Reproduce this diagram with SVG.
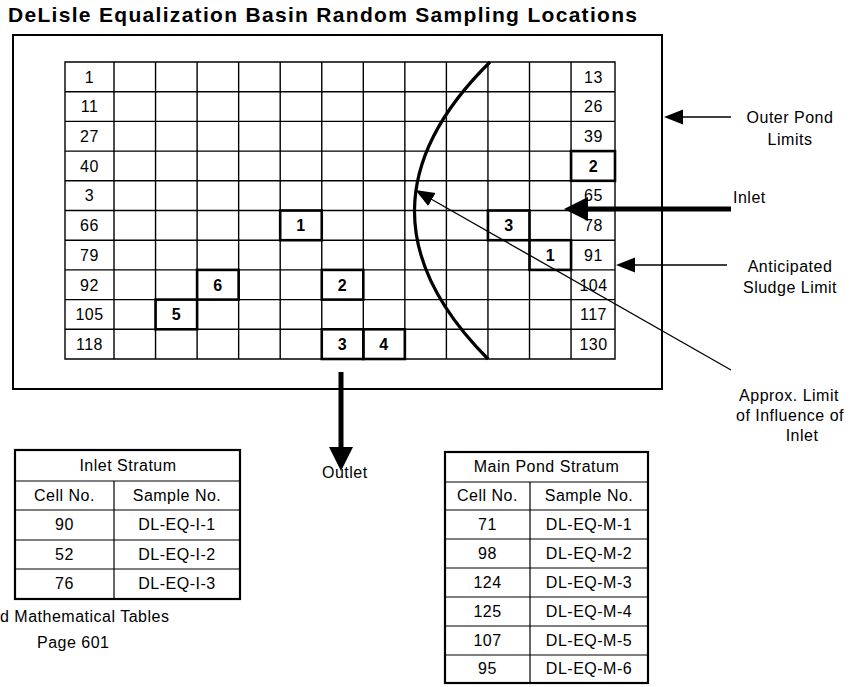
<svg xmlns="http://www.w3.org/2000/svg" width="850" height="687" viewBox="0 0 850 687">
  <style>
    .t { font-family: "Liberation Sans", Arial, Helvetica, sans-serif; font-size: 16px; letter-spacing: 0.5px; fill: #000; }
    .c { text-anchor: middle; }
    .b { font-weight: bold; }
    .title { font-family: "Liberation Sans", Arial, Helvetica, sans-serif; font-size: 21px; font-weight: bold; fill: #000; }
    .frame { fill: #fff; stroke: #000; stroke-width: 2; }
    .gridline { fill: none; stroke: #000; stroke-width: 1.4; }
    .pick { fill: none; stroke: #000; stroke-width: 2.6; }
    .arc { fill: none; stroke: #000; stroke-width: 3.2; }
    .thick { stroke: #000; stroke-width: 5; fill: none; }
    .thin { stroke: #000; stroke-width: 1.3; fill: none; }
    .tbl { fill: none; stroke: #000; stroke-width: 2.2; }
    .tline { fill: none; stroke: #000; stroke-width: 1.2; }
  </style>
  <defs>
    <marker id="head-lg" markerUnits="userSpaceOnUse" markerWidth="26" markerHeight="26" viewBox="0 -13 26 26" refX="1" refY="0" orient="auto">
      <path d="M0,-12 L24,0 L0,12 z" fill="#000"/>
    </marker>
    <marker id="head-sm" markerUnits="userSpaceOnUse" markerWidth="22" markerHeight="18" viewBox="0 -9 22 18" refX="1" refY="0" orient="auto">
      <path d="M0,-7.5 L19,0 L0,7.5 z" fill="#000"/>
    </marker>
  </defs>

  <rect width="850" height="687" fill="#fff"/>

  <text id="title" class="title" x="8" y="22" textLength="629" lengthAdjust="spacing">DeLisle Equalization Basin Random Sampling Locations</text>

  <!-- outer pond boundary -->
  <g id="pond">
    <rect class="frame" x="13" y="35" width="649" height="354"/>
  </g>

  <!-- 13 x 10 sampling grid -->
  <g id="grid">
    <path class="gridline" d="M65,62 H615 V359 H65 Z
      M65,91.7 H615 M65,121.4 H615 M65,151.1 H615 M65,180.8 H615 M65,210.5 H615
      M65,240.2 H615 M65,269.9 H615 M65,299.6 H615 M65,329.3 H615
      M114,62 V359 M155.55,62 V359 M197.1,62 V359 M238.65,62 V359 M280.2,62 V359
      M321.75,62 V359 M363.3,62 V359 M404.85,62 V359 M446.4,62 V359 M487.95,62 V359
      M529.5,62 V359 M571.05,62 V359"/>
    <g class="t c">
      <text x="89.5" y="82.6">1</text>
      <text x="89.5" y="112.3">11</text>
      <text x="89.5" y="142">27</text>
      <text x="89.5" y="171.7">40</text>
      <text x="89.5" y="201.4">3</text>
      <text x="89.5" y="231.1">66</text>
      <text x="89.5" y="260.8">79</text>
      <text x="89.5" y="290.5">92</text>
      <text x="89.5" y="320.2">105</text>
      <text x="89.5" y="349.9">118</text>
      <text x="593.5" y="82.6">13</text>
      <text x="593.5" y="112.3">26</text>
      <text x="593.5" y="142">39</text>
      <text x="593.5" y="201.4">65</text>
      <text x="593.5" y="231.1">78</text>
      <text x="593.5" y="260.8">91</text>
      <text x="593.5" y="290.5">104</text>
      <text x="593.5" y="320.2">117</text>
      <text x="593.5" y="349.9">130</text>
    </g>
  </g>

  <!-- selected sample cells -->
  <g id="samples">
    <g id="cell-m1"><rect class="pick" x="280.2" y="210.5" width="41.55" height="29.7"/><text class="t c b" x="301" y="231.1">1</text></g>
    <g id="cell-m6"><rect class="pick" x="197.1" y="269.9" width="41.55" height="29.7"/><text class="t c b" x="218" y="290.5">6</text></g>
    <g id="cell-m5"><rect class="pick" x="155.55" y="299.6" width="41.55" height="29.7"/><text class="t c b" x="176.5" y="320.2">5</text></g>
    <g id="cell-m2"><rect class="pick" x="321.75" y="269.9" width="41.55" height="29.7"/><text class="t c b" x="342.5" y="290.5">2</text></g>
    <g id="cell-m3"><rect class="pick" x="321.75" y="329.3" width="41.55" height="29.7"/><text class="t c b" x="342.5" y="349.9">3</text></g>
    <g id="cell-m4"><rect class="pick" x="363.3" y="329.3" width="41.55" height="29.7"/><text class="t c b" x="384" y="349.9">4</text></g>
    <g id="cell-i3"><rect class="pick" x="487.95" y="210.5" width="41.55" height="29.7"/><text class="t c b" x="509" y="231.1">3</text></g>
    <g id="cell-i1"><rect class="pick" x="529.5" y="240.2" width="41.55" height="29.7"/><text class="t c b" x="550.5" y="260.8">1</text></g>
    <g id="cell-i2"><rect class="pick" x="571.05" y="151.1" width="43.95" height="29.7"/><text class="t c b" x="593.5" y="171.7">2</text></g>
  </g>

  <!-- sludge limit curve -->
  <g id="sludge-limit">
    <path class="arc" d="M490,62 Q340,210 488,359"/>
  </g>

  <!-- annotation labels -->
  <g id="label-outer">
    <text class="t c" x="790" y="123">Outer Pond</text>
    <text class="t c" x="790" y="145">Limits</text>
  </g>
  <g id="label-inlet">
    <text class="t" x="733" y="203">Inlet</text>
  </g>
  <g id="label-sludge">
    <text class="t c" x="790" y="272">Anticipated</text>
    <text class="t c" x="790" y="293">Sludge Limit</text>
  </g>
  <g id="label-influence">
    <text class="t c" x="789" y="401">Approx. Limit</text>
    <text class="t c" x="790" y="421">of Influence of</text>
    <text class="t c" x="802" y="441">Inlet</text>
  </g>
  <g id="label-outlet">
    <text class="t" x="322" y="478">Outlet</text>
  </g>

  <!-- arrows -->
  <g id="connectors">
    <line class="thin" x1="731" y1="117" x2="682" y2="117" marker-end="url(#head-sm)"/>
    <line class="thick" x1="731" y1="209" x2="587" y2="209" marker-end="url(#head-lg)"/>
    <line class="thin" x1="727" y1="265" x2="634" y2="265" marker-end="url(#head-sm)"/>
    <line class="thin" x1="731" y1="370" x2="431" y2="199" marker-end="url(#head-sm)"/>
    <line class="thick" x1="341" y1="372" x2="341" y2="448" marker-end="url(#head-lg)"/>
  </g>

  <!-- inlet stratum table -->
  <g id="table-inlet">
    <rect class="tbl" x="15" y="450" width="225" height="149"/>
    <path class="tline" d="M15,481 H240 M15,510 H240 M15,540 H240 M15,569 H240 M114,481 V599"/>
    <text class="t c" x="128" y="471">Inlet Stratum</text>
    <text class="t c" x="64.5" y="501">Cell No.</text>
    <text class="t c" x="177" y="501">Sample No.</text>
    <text class="t c" x="64.5" y="530">90</text>
    <text class="t c" x="177" y="530">DL-EQ-I-1</text>
    <text class="t c" x="64.5" y="560">52</text>
    <text class="t c" x="177" y="560">DL-EQ-I-2</text>
    <text class="t c" x="64.5" y="589">76</text>
    <text class="t c" x="177" y="589">DL-EQ-I-3</text>
  </g>

  <!-- main pond stratum table -->
  <g id="table-main">
    <rect class="tbl" x="445" y="452" width="203" height="231"/>
    <path class="tline" d="M445,482 H648 M445,510 H648 M445,539 H648 M445,568 H648 M445,597 H648 M445,626 H648 M445,655 H648 M530,482 V683"/>
    <text class="t c" x="546.5" y="472">Main Pond Stratum</text>
    <text class="t c" x="487.5" y="501">Cell No.</text>
    <text class="t c" x="589" y="501">Sample No.</text>
    <text class="t c" x="487.5" y="530">71</text>
    <text class="t c" x="589" y="530">DL-EQ-M-1</text>
    <text class="t c" x="487.5" y="559">98</text>
    <text class="t c" x="589" y="559">DL-EQ-M-2</text>
    <text class="t c" x="487.5" y="588">124</text>
    <text class="t c" x="589" y="588">DL-EQ-M-3</text>
    <text class="t c" x="487.5" y="617">125</text>
    <text class="t c" x="589" y="617">DL-EQ-M-4</text>
    <text class="t c" x="487.5" y="646">107</text>
    <text class="t c" x="589" y="646">DL-EQ-M-5</text>
    <text class="t c" x="487.5" y="674">95</text>
    <text class="t c" x="589" y="674">DL-EQ-M-6</text>
  </g>

  <!-- page footer fragment -->
  <g id="footer">
    <text class="t" x="0" y="622">d Mathematical Tables</text>
    <text class="t" x="37" y="648">Page 601</text>
  </g>
</svg>
